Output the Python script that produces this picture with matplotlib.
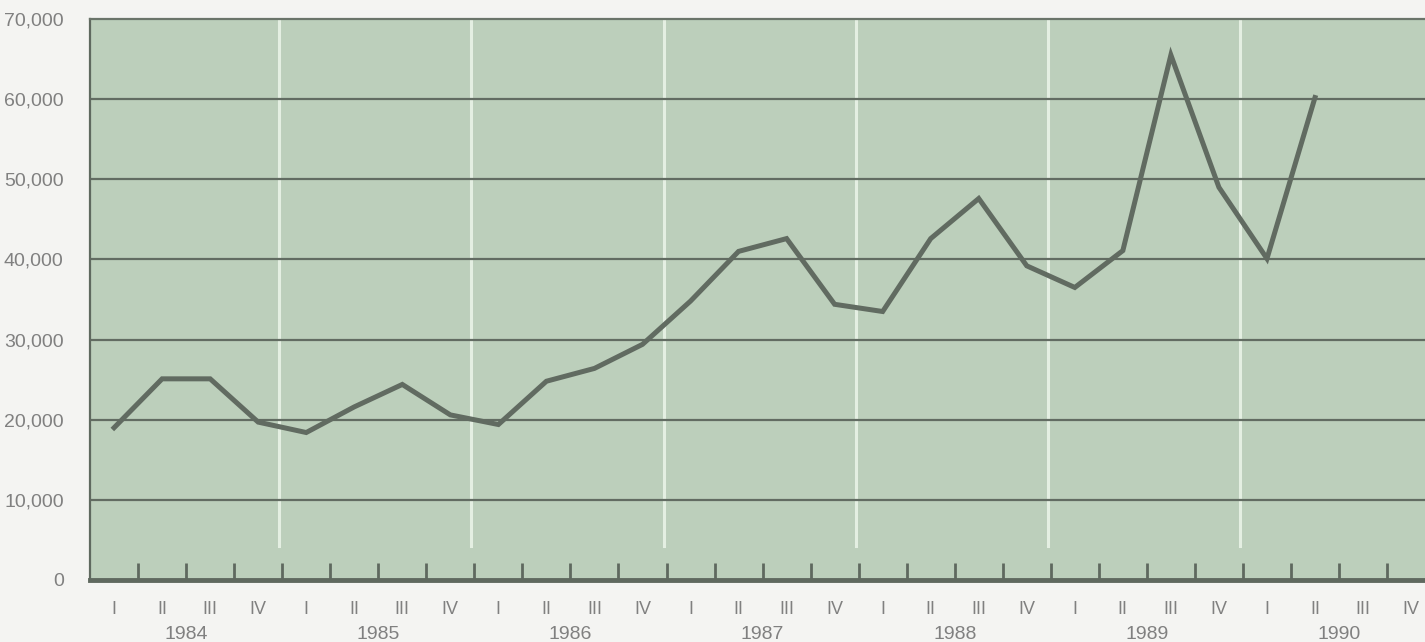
import matplotlib.pyplot as plt
from matplotlib.ticker import FixedLocator, FuncFormatter
import matplotlib.transforms as mtransforms

plt.rcParams['font.family'] = ['Liberation Sans', 'DejaVu Sans']

years = ['1984', '1985', '1986', '1987', '1988', '1989', '1990']
quarters = ['I', 'II', 'III', 'IV']
values = [19000, 25100, 25100, 19700, 18400, 21600, 24400, 20600,
          19400, 24800, 26400, 29400, 34800, 41000, 42600, 34400,
          33500, 42600, 47600, 39200, 36500, 41100, 65500, 49000,
          40100, 60200]
yticks = [0, 10000, 20000, 30000, 40000, 50000, 60000, 70000]

bg = '#bccfbb'
dark = '#5f695f'
txt = '#808080'

fig = plt.figure(figsize=(14.25, 6.42), dpi=100)
fig.patch.set_facecolor('#f4f4f2')
ax = fig.add_axes([0.0632, 0.0966, 0.9368, 0.8738])
ax.set_facecolor(bg)

n_q = len(years) * len(quarters)
xs = [i + 0.5 for i in range(len(values))]

# horizontal grid
for y in yticks[1:-1]:
    ax.axhline(y, color='#626c62', lw=1.6, zorder=2)

# white year separators
for k in range(1, len(years)):
    ax.axvline(4 * k - 0.06, ymin=0.06, ymax=1, color='#e4efe2', lw=2.2, zorder=1)

ax.plot(xs, values, color='#616b61', lw=3.6, solid_joinstyle='miter', zorder=4)

ax.set_xlim(0, 27.79)
ax.set_ylim(0, 70000)

ax.yaxis.set_major_locator(FixedLocator(yticks))
ax.yaxis.set_major_formatter(FuncFormatter(lambda v, p: f'{int(v):,}'))
ax.tick_params(axis='y', length=0, pad=19, labelsize=14, labelcolor=txt)

ax.xaxis.set_major_locator(FixedLocator(list(range(1, n_q))))
ax.xaxis.set_minor_locator(FixedLocator([i + 0.5 for i in range(n_q)]))
ax.xaxis.set_major_formatter(FuncFormatter(lambda v, p: ''))
ax.xaxis.set_minor_formatter(FuncFormatter(lambda v, p: quarters[int(v) % 4]))
ax.tick_params(axis='x', which='major', direction='in', length=12, width=2,
               color=dark)
ax.tick_params(axis='x', which='minor', length=0, pad=15, labelsize=13,
               labelcolor=txt)

trans = mtransforms.blended_transform_factory(ax.transData, ax.transAxes)
for k, yr in enumerate(years):
    ax.text(4 * k + 2, -0.097, yr, transform=trans, ha='center', va='center',
            fontsize=14, color=txt)

ax.spines['right'].set_visible(False)
ax.spines['bottom'].set_linewidth(3.5)
ax.spines['bottom'].set_color(dark)
ax.spines['left'].set_linewidth(1.6)
ax.spines['left'].set_color(dark)
ax.spines['top'].set_linewidth(1.6)
ax.spines['top'].set_color('#6a746a')

fig.savefig('out.png', dpi=100, facecolor=fig.get_facecolor())
